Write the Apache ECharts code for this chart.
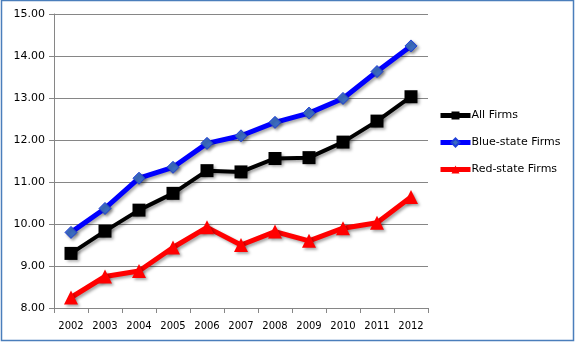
<!DOCTYPE html>
<html>
<head>
<meta charset="utf-8">
<script src="https://cdn.jsdelivr.net/npm/echarts@6/dist/echarts.min.js"></script>
<style>
  html, body { margin: 0; padding: 0; background: #fff; }
  #chart { width: 576px; height: 343px; }
</style>
</head>
<body>
<div id="chart"></div>
<script>
// Years on the category axis
const years = ['2002','2003','2004','2005','2006','2007','2008','2009','2010','2011','2012'];

// Series values
const allFirms  = [9.30, 9.83, 10.33, 10.73, 11.27, 11.24, 11.56, 11.58, 11.95, 12.45, 13.03];
const blueFirms = [9.80, 10.37, 11.09, 11.35, 11.92, 12.10, 12.42, 12.64, 12.99, 13.63, 14.24];
const redFirms  = [8.25, 8.75, 8.88, 9.44, 9.92, 9.50, 9.82, 9.60, 9.90, 10.03, 10.64];

// Value axis range
const yMin = 8, yMax = 15, yStep = 1;

const font = 'Tahoma, "DejaVu Sans", Verdana, sans-serif';
const shadow = { shadowColor: 'rgba(0,0,0,0.35)', shadowBlur: 3, shadowOffsetX: 2, shadowOffsetY: 2 };

const chart = echarts.init(document.getElementById('chart'));
chart.setOption({
  animation: false,
  backgroundColor: '#fff',
  grid: { left: 54, top: 14, right: 148, bottom: 35, containLabel: false },
  legend: {
    orient: 'vertical',
    left: 433,
    top: 105,
    itemGap: 16,
    itemWidth: 30,
    itemHeight: 10,
    lineStyle: { width: 5 },
    textStyle: { fontFamily: font, fontSize: 11, color: '#000', padding: [0, 0, 0, -4] },
    data: ['All Firms', 'Blue-state Firms', 'Red-state Firms']
  },
  xAxis: {
    type: 'category',
    data: years,
    boundaryGap: true,
    axisLine: { lineStyle: { color: '#868686', width: 1 } },
    axisTick: { show: true, length: 5, lineStyle: { color: '#868686' } },
    axisLabel: { fontFamily: font, fontSize: 10, color: '#000', margin: 13, interval: 0 }
  },
  yAxis: {
    type: 'value',
    min: yMin, max: yMax, interval: yStep,
    axisLine: { show: true, lineStyle: { color: '#868686', width: 1 } },
    axisTick: { show: true, length: 5, lineStyle: { color: '#868686' } },
    splitLine: { lineStyle: { color: '#868686', width: 1 } },
    axisLabel: { fontFamily: font, fontSize: 11, color: '#000', margin: 9,
      formatter: v => v.toFixed(2) }
  },
  series: [
    {
      name: 'All Firms', type: 'line', data: allFirms,
      symbol: 'rect', symbolSize: 13,
      lineStyle: Object.assign({ color: '#000', width: 4 }, shadow),
      itemStyle: Object.assign({ color: '#000' }, shadow),
      z: 3
    },
    {
      name: 'Blue-state Firms', type: 'line', data: blueFirms,
      symbol: 'diamond', symbolSize: 12,
      lineStyle: Object.assign({ color: '#0000ff', width: 5 }, shadow),
      itemStyle: Object.assign({ color: '#3c6cc0', borderColor: '#1f3fd8', borderWidth: 1 }, shadow),
      z: 2
    },
    {
      name: 'Red-state Firms', type: 'line', data: redFirms,
      symbol: 'triangle', symbolSize: 14,
      lineStyle: Object.assign({ color: '#ff0000', width: 5 }, shadow),
      itemStyle: Object.assign({ color: '#ff0000' }, shadow),
      z: 1
    }
  ],
  graphic: [{
    type: 'rect', silent: true,
    shape: { x: 1.5, y: 0.5, width: 572, height: 340 },
    style: { fill: 'none', stroke: '#4a7ebb', lineWidth: 1.5 }
  }]
});
</script>
</body>
</html>
